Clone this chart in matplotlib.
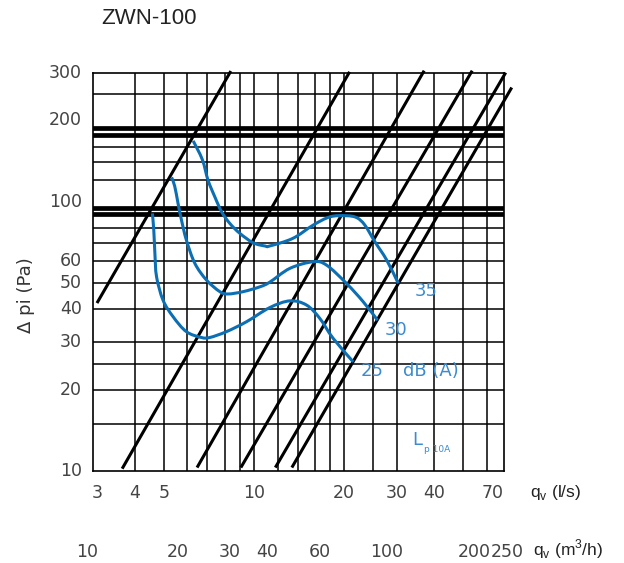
import numpy as np
import matplotlib
matplotlib.use('Agg')
import matplotlib.pyplot as plt
from matplotlib.path import Path
from matplotlib.patches import PathPatch

# axis range, q in l/s and dp in Pa
q_min, q_max = 2.9, 68.6
p_min, p_max = 10, 300

# grid lines
q_grid = [4, 5, 6, 7, 8, 9, 10, 12, 14, 16, 18, 20, 25, 30, 40, 50, 60]
p_grid = [15, 20, 25, 30, 40, 50, 60, 70, 80, 120, 140, 160, 250]
p_thick = [90, 95, 176, 187]

# tick labels
q_ticks = [3, 4, 5, 10, 20, 30, 40, 70]
m3h_ticks = [10, 20, 30, 40, 60, 100, 200, 250]
p_ticks = [10, 20, 30, 40, 50, 60, 100, 200, 300]

# system lines (correction in dB), start and end points
line_labels = ['-3', '0', '3', '6', '9', '12']
line_q0 = [2.99, 3.63, 6.46, 9.05, 11.8, 13.4]
line_p0 = [42.0, 10.2, 10.3, 10.3, 10.3, 10.3]
line_q1 = [8.38, 20.9, 37.1, 53.7, 69.5, 72.8]
line_p1 = [305, 303, 306, 306, 301, 265]
line_label_offset = [(2, 14), (8, 17), (9, 16), (1, 15), (0, 18), (13, 1)]

# sound level curves Lp10A
q_35 = [6.27, 6.73, 7.03, 7.41, 7.80, 8.31, 8.98, 9.95, 10.9, 11.3, 13.5,
        15.8, 18.0, 20.4, 22.1, 23.5, 25.4, 27.8, 30.4]
p_35 = [168, 143, 120, 104, 91.7, 83.0, 76.2, 70.3, 68.4, 68.4, 73.0,
        81.8, 87.8, 88.6, 87.1, 81.8, 70.9, 60.7, 49.7]
q_30 = [5.31, 5.44, 5.58, 5.73, 5.95, 6.35, 6.95, 7.70, 8.20, 9.21, 10.5, 11.3,
        13.2, 15.8, 17.5, 20.4, 23.2, 25.9]
p_30 = [123, 114, 98.5, 85.4, 72.0, 59.0, 51.1, 46.3, 45.4, 46.3, 48.3, 50.2,
        56.5, 59.8, 58.1, 49.7, 42.5, 36.3]
q_25 = [4.58, 4.63, 4.67, 4.73, 4.97, 5.37, 5.95, 6.68, 7.13, 8.10, 9.45, 11.3,
        13.2, 15.0, 16.6, 18.4, 21.5]
p_25 = [90.4, 78.4, 64.2, 52.6, 43.1, 37.4, 32.9, 31.3, 31.3, 32.9, 35.8, 40.4,
        42.8, 41.3, 36.9, 31.1, 25.4]
curve_labels = ['35', '30', '25']
curve_label_offset = [(28, -8), (19, -10), (19, -9)]

blue = '#0c6fb4'
blue_txt = '#3a8bcf'
grey = '#444444'


def smooth_path(qs, ps):
    # bezier through the read points (catmull-rom, in log space)
    pts = np.column_stack([np.log10(qs), np.log10(ps)])
    ext = np.vstack([pts[0], pts, pts[-1]])
    verts = [pts[0]]
    codes = [Path.MOVETO]
    for i in range(len(pts) - 1):
        c1 = ext[i + 1] + (ext[i + 2] - ext[i]) / 6
        c2 = ext[i + 2] - (ext[i + 3] - ext[i + 1]) / 6
        verts += [c1, c2, ext[i + 2]]
        codes += [Path.CURVE4] * 3
    return Path(10 ** np.array(verts), codes)


fig = plt.figure(figsize=(6.24, 5.63), dpi=100)
ax = fig.add_axes([93 / 624, 92 / 563, 411 / 624, 398 / 563])
ax.set_xscale('log')
ax.set_yscale('log')
ax.set_xlim(q_min, q_max)
ax.set_ylim(p_min, p_max)
ax.set_xticks([])
ax.set_yticks([])
ax.minorticks_off()
for s in ax.spines.values():
    s.set_linewidth(1.2)

for q in q_grid:
    ax.axvline(q, color='black', lw=1.1, zorder=1)
for p in p_grid:
    ax.axhline(p, color='black', lw=1.1, zorder=1)
for p in p_thick:
    ax.axhline(p, color='black', lw=3.4, zorder=2)

# system lines
for i in range(len(line_labels)):
    ax.plot([line_q0[i], line_q1[i]], [line_p0[i], line_p1[i]], color='black',
            lw=2.2, solid_capstyle='butt', clip_on=False, zorder=3)
    ax.annotate(line_labels[i], xy=(line_q1[i], line_p1[i]),
                xytext=line_label_offset[i], textcoords='offset pixels',
                ha='center', va='center', fontsize=12.5, color='#222222')

# sound curves
curves = [(q_35, p_35), (q_30, p_30), (q_25, p_25)]
for (qs, ps), lab, off in zip(curves, curve_labels, curve_label_offset):
    ax.add_patch(PathPatch(smooth_path(qs, ps), fill=False, edgecolor=blue,
                           lw=2.2, zorder=4, capstyle='butt'))
    ax.annotate(lab, xy=(qs[-1], ps[-1]), xytext=off, textcoords='offset pixels',
                ha='center', va='center', fontsize=13, color=blue_txt)
ax.annotate('dB (A)', xy=(q_25[-1], p_25[-1]), xytext=(78, -9),
            textcoords='offset pixels', ha='center', va='center',
            fontsize=13, color=blue_txt)
ax.text(0.79, 0.078, 'L', transform=ax.transAxes, ha='center', va='center',
        fontsize=13, color=blue_txt)
ax.text(0.805, 0.055, 'p 10A', transform=ax.transAxes, ha='left', va='center',
        fontsize=6.5, color=blue_txt)

# tick labels
xtr = ax.get_xaxis_transform()
ytr = ax.get_yaxis_transform()
for v in p_ticks:
    ax.text(-0.027, v, str(v), transform=ytr, ha='right', va='center',
            fontsize=12.5, color=grey)
for v in q_ticks:
    x, ha = v, 'center'
    if v < q_min:
        x = q_min
    if v > q_max:
        x, ha = q_max, 'right'
    ax.text(x, -0.055, str(v), transform=xtr, ha=ha, va='center',
            fontsize=12.5, color=grey)
mid = np.sqrt(m3h_ticks[-2] * m3h_ticks[-1]) / 3.6
for v in m3h_ticks:
    x, ha = v / 3.6, 'center'
    if v == m3h_ticks[-2]:
        x, ha = mid, 'right'
    if v == m3h_ticks[-1]:
        x, ha = mid, 'left'
    ax.text(x, -0.204, str(v), transform=xtr, ha=ha, va='center',
            fontsize=12.5, color=grey)

sans = ['Liberation Sans', 'DejaVu Sans']
fig.text(530 / 624, 1 - 493 / 563, r'q$_\mathregular{v}$ (l/s)', ha='left',
         va='center', fontsize=12.5, color='#222222', family=sans)
fig.text(533 / 624, 1 - 549 / 563, r'q$_\mathregular{v}$ (m$^\mathregular{3}$/h)',
         ha='left', va='center', fontsize=12.5, color='#222222', family=sans)
fig.text(26 / 624, 1 - 295 / 563, 'Δ pi (Pa)', rotation=90, ha='center',
         va='center', fontsize=13, color='#333333')
fig.text(149 / 624, 1 - 18 / 563, 'ZWN-100', ha='center', va='center',
         fontsize=16, color='#222222', family=sans)

fig.savefig('out.png', dpi=100)
